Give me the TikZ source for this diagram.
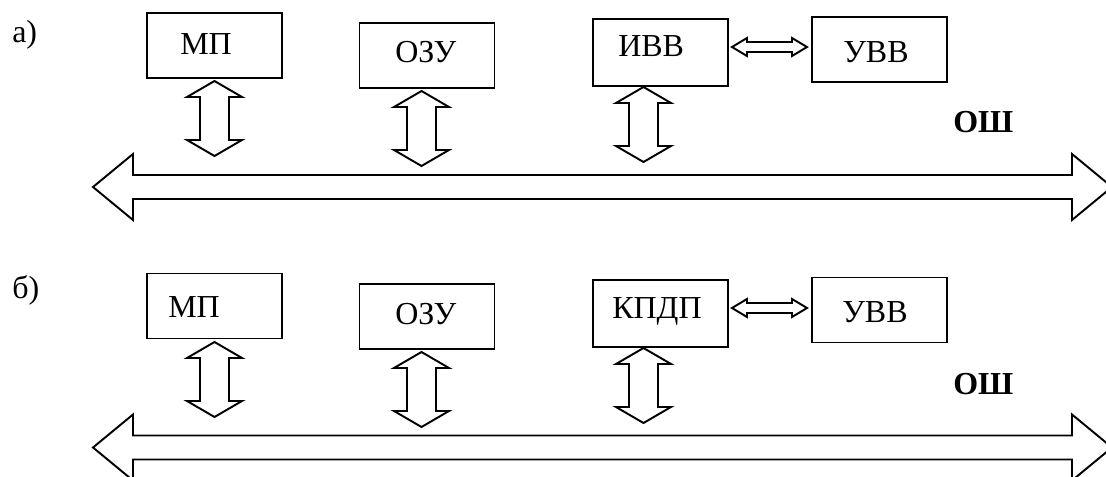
\documentclass[tikz,border=0pt]{standalone}
\usepackage{fontspec}
\setmainfont{Liberation Serif}
\usetikzlibrary{calc}
\begin{document}
\begin{tikzpicture}[x=0.75pt,y=-0.75pt,
  box/.style={draw, line width=1.45pt, minimum width=101.25pt, minimum height=48.75pt, inner sep=0pt},
  tallbox/.style={box, minimum height=50.25pt},
  lbl/.style={anchor=base west, inner sep=0pt, font=\fontsize{24}{28}\selectfont},
  boldlbl/.style={lbl, font=\fontsize{24}{28}\selectfont\bfseries},
  outline/.style={draw, line width=1.45pt, line join=miter, fill=white},
  % vertical two-way block arrow, 75 units long
  vlink/.pic={\draw[outline] (0,-37.5) -- (27.5,-21.5) -- (14.5,-21.5) -- (14.5,21.5)
      -- (27.5,21.5) -- (0,37.5) -- (-27.5,21.5) -- (-14.5,21.5) -- (-14.5,-21.5)
      -- (-27.5,-21.5) -- cycle;},
  % horizontal two-way block arrow, 75 units long
  hlink/.pic={\draw[outline] (-37.5,0) -- (-22.5,-9) -- (-22.5,-5) -- (22.5,-5)
      -- (22.5,-9) -- (37.5,0) -- (22.5,9) -- (22.5,5) -- (-22.5,5) -- (-22.5,9) -- cycle;},
  % system bus
  bus/.pic={\draw[outline] (93,0) -- (133,-33) -- (133,-12) -- (1072,-12) -- (1072,-33)
      -- (1112,0) -- (1072,33) -- (1072,12) -- (133,12) -- (133,33) -- cycle;}
]
\useasboundingbox (0,0) rectangle (1106,477);
\clip (0,0) rectangle (1106,477);

% ---- panel a ----
\node[lbl] (la) at (12,43) {а)};
\node[box] (amp) at (214.5,45.5) {};
\node[lbl] (ampt) at (180,55) {МП};
\node[box] (aozu) at (427,55.5) {};
\node[lbl] (aozut) at (395,63) {ОЗУ};
\node[tallbox] (aivv) at (660.5,52.5) {};
\node[lbl] (aivvt) at (618,57) {ИВВ};
\node[box] (auvv) at (879.5,49.5) {};
\node[lbl] (auvvt) at (843,63) {УВВ};
\node[boldlbl] (aosh) at (953,133) {ОШ};
\pic at (769.5,47) {hlink};
\pic at (214.5,118.5) {vlink};
\pic at (421.5,128.5) {vlink};
\pic at (643.5,124.5) {vlink};
\pic at (0,187) {bus};

% ---- panel b ----
\node[lbl] (lb) at (12,298) {б)};
\node[box] (bmp) at (214.5,306) {};
\node[lbl] (bmpt) at (168,317) {МП};
\node[box] (bozu) at (427,316.5) {};
\node[lbl] (bozut) at (395,324) {ОЗУ};
\node[tallbox] (bkpdp) at (660.5,313.5) {};
\node[lbl] (bkpdpt) at (612,318) {КПДП};
\node[box] (buvv) at (879.5,310) {};
\node[lbl] (buvvt) at (842,322) {УВВ};
\node[boldlbl] (bosh) at (953,394) {ОШ};
\pic at (769.5,308) {hlink};
\pic at (214.5,379.5) {vlink};
\pic at (421.5,389.5) {vlink};
\pic at (643.5,385.5) {vlink};
\pic at (0,447.5) {bus};
\end{tikzpicture}
\end{document}
